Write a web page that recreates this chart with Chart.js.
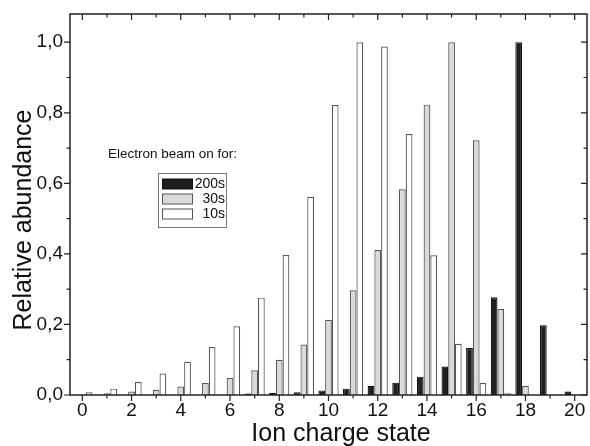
<!DOCTYPE html>
<html><head><meta charset="utf-8">
<script src="https://cdn.jsdelivr.net/npm/chart.js@4/dist/chart.umd.min.js"></script>
<style>html,body{margin:0;padding:0;background:#fff;}#wrap{width:590px;height:446px;}</style>
</head><body><div id="wrap"><canvas id="c" width="590" height="446"></canvas></div>
<script>
const chargeStates = ['0','1','2','3','4','5','6','7','8','9','10','11','12','13','14','15','16','17','18','19','20'];
const beam200s = [0, 0, 0, 0, 0, 0, 0, 0.004, 0.006, 0.008, 0.013, 0.018, 0.026, 0.035, 0.052, 0.081, 0.133, 0.277, 1.0, 0.198, 0.010];
const beam30s  = [0, 0.005, 0.010, 0.015, 0.024, 0.034, 0.048, 0.070, 0.100, 0.143, 0.213, 0.297, 0.411, 0.583, 0.823, 1.0, 0.722, 0.244, 0.026, 0, 0];
const beam10s  = [0.008, 0.018, 0.037, 0.061, 0.094, 0.136, 0.195, 0.276, 0.397, 0.562, 0.822, 1.0, 0.988, 0.740, 0.396, 0.145, 0.034, 0.005, 0, 0, 0];
const yMajorTicks = [0, 0.2, 0.4, 0.6, 0.8, 1.0];
const yMinorTicks = [0.1, 0.3, 0.5, 0.7, 0.9];
const legendTitle = 'Electron beam on for:';
const xTitle = 'Ion charge state';
const yTitle = 'Relative abundance';
const FONT = '"Liberation Sans", Arial, Helvetica, sans-serif';

const framePlugin = {
  id: 'frame',
  afterDraw(chart) {
    const {ctx, chartArea: a, scales: {x, y}} = chart;
    ctx.save();
    ctx.strokeStyle = '#222';
    ctx.lineWidth = 1.5;
    ctx.strokeRect(a.left, a.top, a.right - a.left, a.bottom - a.top);
    ctx.lineWidth = 1.2;
    ctx.beginPath();
    chargeStates.forEach((c, i) => {
      const px = x.getPixelForValue(i);
      const len = i % 2 === 0 ? 6 : 3.5;
      ctx.moveTo(px, a.bottom); ctx.lineTo(px, a.bottom + len);
      ctx.moveTo(px, a.top); ctx.lineTo(px, a.top + len);
    });
    yMajorTicks.forEach(v => {
      const py = y.getPixelForValue(v);
      ctx.moveTo(a.left, py); ctx.lineTo(a.left - 6, py);
      ctx.moveTo(a.right, py); ctx.lineTo(a.right - 6, py);
    });
    yMinorTicks.forEach(v => {
      const py = y.getPixelForValue(v);
      ctx.moveTo(a.left, py); ctx.lineTo(a.left - 3.5, py);
      ctx.moveTo(a.right, py); ctx.lineTo(a.right - 3.5, py);
    });
    ctx.stroke();

    // axis titles
    ctx.fillStyle = '#111';
    ctx.font = '25px ' + FONT;
    ctx.textAlign = 'center';
    ctx.textBaseline = 'alphabetic';
    ctx.fillText(xTitle, 341, 441);
    ctx.save();
    ctx.translate(31, 220);
    ctx.rotate(-Math.PI / 2);
    ctx.fillText(yTitle, 0, 0);
    ctx.restore();

    // legend
    ctx.font = '13.5px ' + FONT;
    ctx.fillStyle = '#111';
    ctx.textBaseline = 'middle';
    ctx.textAlign = 'left';
    ctx.fillText(legendTitle, 108, 154);
    ctx.lineWidth = 1;
    ctx.strokeStyle = '#777';
    ctx.strokeRect(158.5, 173.5, 68, 54);
    const rows = [184, 199, 214];
    ctx.font = '14px ' + FONT;
    chart.data.datasets.forEach((ds, i) => {
      const ry = rows[i];
      ctx.fillStyle = ds.backgroundColor;
      ctx.fillRect(162, ry - 5, 30, 10);
      ctx.strokeStyle = ds.borderColor;
      ctx.lineWidth = 1;
      ctx.strokeRect(162.5, ry - 5, 30, 10);
      ctx.fillStyle = '#111';
      ctx.textAlign = 'right';
      ctx.fillText(ds.label, 225, ry + 0.5);
    });
    ctx.restore();
  }
};

new Chart(document.getElementById('c'), {
  type: 'bar',
  data: {
    labels: chargeStates,
    datasets: [
      {label: '200s', data: beam200s, backgroundColor: '#1f1f1f', borderColor: '#111', borderWidth: 1.2},
      {label: '30s', data: beam30s, backgroundColor: '#dadada', borderColor: '#555', borderWidth: 1.2},
      {label: '10s', data: beam10s, backgroundColor: '#ffffff', borderColor: '#555', borderWidth: 1.2}
    ]
  },
  options: {
    responsive: false,
    animation: false,
    devicePixelRatio: 1,
    layout: {padding: {top: 14, right: 3, left: 0, bottom: 0}},
    datasets: {bar: {categoryPercentage: 0.82, barPercentage: 1.0}},
    plugins: {legend: {display: false}, tooltip: {enabled: false}},
    scales: {
      x: {
        type: 'category',
        offset: true,
        grid: {display: false, drawTicks: false},
        border: {display: false},
        afterFit(s) { s.height = 51; s.paddingLeft = 0; s.paddingRight = 0; },
        ticks: {
          autoSkip: false, maxRotation: 0, padding: 4,
          color: '#111', font: {family: FONT, size: 19},
          callback(v, i) { return i % 2 === 0 ? chargeStates[i] : ''; }
        }
      },
      y: {
        min: 0, max: 1.08,
        grid: {display: false, drawTicks: false},
        border: {display: false},
        afterFit(s) { s.width = 70; s.paddingTop = 0; s.paddingBottom = 0; },
        afterBuildTicks(s) { s.ticks = yMajorTicks.map(v => ({value: v})); },
        ticks: {
          padding: 7, color: '#111', font: {family: FONT, size: 19},
          callback(v) { return v.toFixed(1).replace('.', ','); }
        }
      }
    }
  },
  plugins: [framePlugin]
});
</script>
</body></html>
